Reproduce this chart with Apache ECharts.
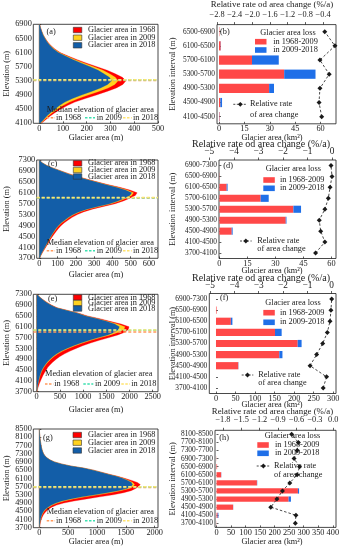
<!DOCTYPE html>
<html>
<head>
<meta charset="utf-8">
<script src="https://cdn.jsdelivr.net/npm/echarts@6.0.0/dist/echarts.min.js"></script>
<style>
html,body{margin:0;padding:0;background:#ffffff;}
#chart{width:346px;height:550px;}
</style>
</head>
<body>
<div id="chart"></div>
<script>
// ================= DATA =================
// Panel (a): hypsometry, elevation (m) vs glacier area
const elevA = [4100,4200,4300,4400,4500,4600,4700,4800,4900,5000,5100,5200,5300,5400,5500,5600,5700,5800,5900,6000,6100,6200,6300,6400,6500,6600,6700,6800,6900];
const areaA1968 = [9,27,45,66,90,118,150,194,241,285,325,352,365,350,320,286,243,200,160,122,88,66,49,36,26,17,11,6,2];
const areaA2009 = [6,22,37,55,77,100,128,164,206,250,290,318,332,320,296,268,230,190,152,116,84,63,47,34,25,17,10,5,2];
const areaA2018 = [4,18,31,47,66,85,108,140,178,220,258,288,305,295,272,248,214,178,143,110,80,60,45,33,24,16,10,5,2];
const medA = [5310,5330,5335];

// Panel (c)
const elevC = [3700,3800,3900,4000,4100,4200,4300,4400,4500,4600,4700,4800,4900,5000,5100,5200,5300,5400,5500,5600,5700,5800,5900,6000,6100,6200,6300,6400,6500,6600,6700,6800,6900,7000,7100,7200,7300];
const areaC1968 = [3,9,17,26,35,44,53,62,72,83,94,106,120,137,158,180,208,242,290,352,415,460,495,525,535,495,440,374,316,260,208,162,120,78,42,16,0];
const areaC2009 = [2,8,15,23,31,40,48,56,65,74,85,95,108,124,145,165,191,222,268,330,394,440,475,505,515,480,428,365,309,253,203,157,117,76,41,15,0];
const areaC2018 = [2,7,14,22,30,38,46,54,63,72,82,92,105,120,140,160,185,215,260,320,385,430,465,495,505,470,420,360,305,250,200,155,115,75,40,15,0];
const medC = [5905,5920,5925];

// Panel (e)
const elevE = [3700,3800,3900,4000,4100,4200,4300,4400,4500,4600,4700,4800,4900,5000,5100,5200,5300,5400,5500,5600,5700,5800,5900,6000,6100,6200,6300,6400,6500,6600,6700,6800,6900,7000,7100,7200,7300];
const areaE1968 = [8,20,38,58,82,108,135,168,205,240,290,350,420,500,600,720,850,990,1160,1350,1560,1750,1900,1975,1990,1820,1580,1360,1095,915,680,445,320,225,140,65,5];
const areaE2009 = [6,12,21,32,45,58,75,96,122,157,196,245,305,373,456,560,682,828,992,1175,1380,1590,1760,1880,1900,1740,1520,1310,1060,890,660,425,305,213,132,61,5];
const areaE2018 = [5,10,18,28,40,52,68,88,112,145,182,228,285,350,430,530,648,790,950,1130,1330,1530,1680,1760,1780,1680,1500,1300,1050,880,650,420,300,210,130,60,5];
const medE = [5910,5975,5980];

// Panel (g)
const elevG = [3700,3800,3900,4000,4100,4200,4300,4400,4500,4600,4700,4800,4900,5000,5100,5200,5300,5400,5500,5600,5700,5800,5900,6000,6100,6200,6300,6400,6500,6600,6700,6800,6900,7000,7100,7200,7300,7400,7500,7600,7700,7800,7900,8000,8100,8200,8300,8400,8500];
const areaG1968 = [5,10,16,24,34,48,66,90,120,160,215,300,425,600,820,1050,1280,1460,1590,1665,1720,1750,1700,1600,1480,1360,1215,1080,945,772,550,388,266,185,134,98,75,59,48,39,32,26,21,16,11,8,5,3,1];
const areaG2009 = [3,7,11,16,23,32,45,62,84,117,165,230,315,430,590,800,1020,1230,1410,1550,1625,1650,1620,1550,1455,1340,1198,1066,935,764,543,382,262,181,131,96,73,58,47,38,31,25,20,15,11,8,5,3,1];
const areaG2018 = [3,6,10,14,20,28,40,55,75,105,150,210,285,390,540,740,960,1170,1360,1510,1590,1615,1595,1530,1440,1330,1190,1060,930,760,540,380,260,180,130,95,72,57,46,38,31,25,20,15,11,8,5,3,1];
const medG = [5660,5690,5695];

// Tick labels of the hypsometry panels
const yTicksA = [4100,4500,4900,5300,5700,6100,6500,6900];
const yTicksCE = [3700,4100,4500,4900,5300,5700,6100,6500,6900,7300];
const yTicksG = [3700,4100,4500,4900,5300,5700,6100,6500,6900,7300,7700,8100,8500];
const xTicksA = [0,100,200,300,400,500];
const xTicksC = [0,100,200,300,400,500,600];
const xTicksE = [0,500,1000,1500,2000,2500];
const xTicksG = [0,500,1000,1500,2000];

// Panel (b): area loss per elevation interval (km2) and relative rate (%/a)
const binsB = ['4100-4500','4500-4900','4900-5300','5300-5700','5700-6100','6100-6500','6500-6900'];
const lossB6809 = [0.3,0.8,29.6,38.5,19.5,1.0,0.2];
const lossB0918 = [0.1,1.0,2.9,18.5,15.8,0.1,0];
const rateB = [-0.43,-0.49,-0.47,-0.26,-0.47,-0.13,-0.36];

// Panel (d)
const binsD = ['3700-4100','4100-4500','4500-4900','4900-5300','5300-5700','5700-6100','6100-6500','6500-6900','6900-7300'];
const lossD6809 = [0,0,6.6,35.5,39.6,22.1,3.9,0.1,0];
const lossD0918 = [0,0,0.5,0.4,4.1,4.3,0.5,0,0];
const rateD = [-0.67,-0.29,-0.46,-0.52,-0.29,-0.15,-0.08,0.0,-0.04];

// Panel (f)
const binsF = ['3700-4100','4100-4500','4500-4900','4900-5300','5300-5700','5700-6100','6100-6500','6500-6900','6900-7300'];
const lossF6809 = [0,0,57,162,209,151,38,1.5,0];
const lossF0918 = [0,0,0.5,8,10,17,4,0,0];
const rateF = [-0.35,-0.21,-0.89,-0.62,-0.37,-0.18,-0.07,-0.03,0.0];

// Panel (h)
const binsH = ['3700-4100','4100-4500','4500-4900','4900-5300','5300-5700','5700-6100','6100-6500','6500-6900','6900-7300','7300-7700','7700-8100','8100-8500'];
const lossH6809 = [0.5,4,57,248,280,139,16,2,0.5,0,0,0];
const lossH0918 = [0,2.5,0.5,8,4,1,0.5,0,0,0,0,0];
const rateH = [-0.62,-0.61,-1.02,-0.92,-0.83,-0.71,-0.59,-0.55,-0.64,-0.59,-0.57,-0.68];

const xTicksB = [0,15,30,45,60];
const xTicksD = [0,15,30,45,60];
const xTicksF = [0,50,100,150,200,250,300];
const xTicksH = [0,50,100,150,200,250,300,350,400];
const rateTicksB = [-2.8,-2.4,-2.0,-1.6,-1.2,-0.8,-0.4];
const rateTicksD = [-5,-4,-3,-2,-1,0];
const rateTicksF = [-5,-4,-3,-2,-1,0];
const rateTicksH = [-1.8,-1.5,-1.2,-0.9,-0.6,-0.3,0];

// ================= STYLE =================
const FONT = '"Liberation Serif","DejaVu Serif",serif';
const INK = '#1a1a1a';
const C68 = '#ff0000', C09 = '#ffd21f', C18 = '#135ea8';
const MEDC = ['#ff9a5c', '#3ee0b0', '#ffe36e'];
const BAR_RED = '#ff4848', BAR_BLUE = '#1f6fe8';
const FS = 8.3;

const grids = [], xAxes = [], yAxes = [], series = [], graphics = [];

function txt(x, y, s, o) {
  o = o || {};
  graphics.push({
    type: 'text', x: x, y: y, rotation: o.rot || 0, z: 100, silent: true,
    style: {
      text: s, fill: o.color || INK,
      font: (o.fs || FS) + 'px ' + FONT,
      align: o.align || 'left', verticalAlign: o.va || 'middle',
      textAlign: o.align || 'left', textVerticalAlign: o.va || 'middle'
    }
  });
}
function rect(x, y, w, h, fill, stroke) {
  graphics.push({type: 'rect', z: 100, silent: true, shape: {x: x, y: y, width: w, height: h},
    style: {fill: fill, stroke: stroke || null, lineWidth: stroke ? 0.6 : 0}});
}
function dash(x1, y1, x2, y2, color, d, w) {
  graphics.push({type: 'line', z: 100, silent: true, shape: {x1: x1, y1: y1, x2: x2, y2: y2},
    style: {stroke: color, lineWidth: w || 1.4, lineDash: d || [2.5, 1.5]}});
}
function diamond(x, y, r) {
  graphics.push({type: 'polygon', z: 101, silent: true,
    shape: {points: [[x, y - r], [x + r, y], [x, y + r], [x - r, y]]}, style: {fill: INK}});
}

function profile(gi, elev, vals, color) {
  const pts = elev.map(function (e, i) { return [vals[i], e]; });
  return {
    type: 'custom', xAxisIndex: gi, yAxisIndex: gi, silent: true, clip: true,
    data: pts, encode: {x: 0, y: 1},
    renderItem: function (params, api) {
      if (params.dataIndex !== 0) return null;
      const poly = [api.coord([0, elev[0]])];
      pts.forEach(function (p) { poly.push(api.coord(p)); });
      poly.push(api.coord([0, elev[elev.length - 1]]));
      return {type: 'polygon', shape: {points: poly}, style: {fill: color, stroke: color, lineWidth: 0.3}};
    }
  };
}

function axisFmt(v) { return String(v); }

function addLeft(c) {
  const gi = grids.length;
  const b = c.box;
  grids.push({left: b[0], top: b[1], width: b[2], height: b[3], show: true,
    borderColor: INK, borderWidth: 0.8, backgroundColor: 'rgba(0,0,0,0)'});
  xAxes.push({gridIndex: gi, type: 'value', min: c.xr[0], max: c.xr[1],
    axisLine: {show: false}, splitLine: {show: false},
    axisTick: {show: true, inside: true, length: 2, customValues: c.xt, lineStyle: {color: INK, width: 0.7}},
    axisLabel: {customValues: c.xt, formatter: axisFmt, fontFamily: FONT, fontSize: FS, color: INK, margin: 1.5}});
  yAxes.push({gridIndex: gi, type: 'value', min: c.elev[0], max: c.elev[c.elev.length - 1],
    axisLine: {show: false}, splitLine: {show: false},
    axisTick: {show: true, inside: true, length: 2, customValues: c.yt, lineStyle: {color: INK, width: 0.7}},
    axisLabel: {customValues: c.yt, formatter: axisFmt, fontFamily: FONT, fontSize: FS, color: INK, margin: 1.5}});
  series.push(profile(gi, c.elev, c.s68, C68));
  series.push(profile(gi, c.elev, c.s09, C09));
  series.push(profile(gi, c.elev, c.s18, C18));
  c.med.forEach(function (m, i) {
    series.push({type: 'line', xAxisIndex: gi, yAxisIndex: gi, silent: true, symbol: 'none', z: 5,
      data: [[c.xr[0], m], [c.xr[1], m]],
      lineStyle: {color: MEDC[i], width: 1.5, type: [3, 2]}});
  });
  txt(c.tag[0], c.tag[1], '(' + c.id + ')');
  const L = c.leg;
  [[C68, 'Glacier area in 1968'], [C09, 'Glacier area in 2009'], [C18, 'Glacier area in 2018']].forEach(function (it, i) {
    rect(L.ix, L.ys[i] - 2.7, 8.5, 5.4, it[0], '#333');
    txt(L.tx, L.ys[i], it[1]);
  });
  const M = c.medTxt;
  txt(M.x, M.y1, 'Median elevation of glacier area');
  dash(M.x, M.y2, M.x + 8.3, M.y2, MEDC[0]);
  txt(M.x + 9.3, M.y2, 'in 1968');
  dash(M.x + 38.3, M.y2, M.x + 48.3, M.y2, MEDC[1]);
  txt(M.x + 50, M.y2, 'in 2009');
  dash(M.x + 76.3, M.y2, M.x + 85, M.y2, MEDC[2]);
  txt(M.x + 86.3, M.y2, 'in 2018');
  txt(96, c.xTitleY, 'Glacier area (m)', {align: 'center'});
  txt(7, b[1] + b[3] / 2, 'Elevation (m)', {align: 'center', rot: Math.PI / 2});
}

function rateFmt(dec) {
  return function (v) {
    const a = Math.abs(v).toFixed(dec);
    return (v < -1e-9 ? '\u2212' : '') + a;
  };
}

function addRight(c) {
  const gi = grids.length;
  const b = c.box;
  grids.push({left: b[0], top: b[1], width: b[2], height: b[3], show: true,
    borderColor: INK, borderWidth: 0.8, backgroundColor: 'rgba(0,0,0,0)'});
  xAxes.push({gridIndex: gi, type: 'value', position: 'bottom', min: c.xr[0], max: c.xr[1],
    axisLine: {show: false}, splitLine: {show: false},
    axisTick: {show: true, inside: true, length: 2, customValues: c.xt, lineStyle: {color: INK, width: 0.7}},
    axisLabel: {customValues: c.xt, formatter: axisFmt, fontFamily: FONT, fontSize: FS, color: INK, margin: 1.5}});
  yAxes.push({gridIndex: gi, type: 'category', data: c.bins,
    axisLine: {show: false}, splitLine: {show: false},
    axisTick: {show: true, inside: true, length: 2, alignWithLabel: true, lineStyle: {color: INK, width: 0.7}},
    axisLabel: {interval: 0, fontFamily: FONT, fontSize: c.yfs, color: INK, margin: 2}});
  series.push({type: 'bar', xAxisIndex: gi, yAxisIndex: gi, stack: 'loss' + c.id, silent: true,
    barCategoryGap: '35%', data: c.l1, itemStyle: {color: BAR_RED}});
  series.push({type: 'bar', xAxisIndex: gi, yAxisIndex: gi, stack: 'loss' + c.id, silent: true,
    data: c.l2, itemStyle: {color: BAR_BLUE}});
  const ri = grids.length;
  grids.push({left: c.rbox[0], top: b[1], width: c.rbox[1], height: b[3], show: false});
  xAxes.push({gridIndex: ri, type: 'value', position: 'top', min: c.rr[0], max: c.rr[1],
    axisLine: {show: false}, splitLine: {show: false},
    axisTick: {show: true, inside: false, length: 2.5, customValues: c.rt, lineStyle: {color: INK, width: 0.7}},
    axisLabel: {customValues: c.rt, formatter: rateFmt(c.dec), fontFamily: FONT, fontSize: c.tfs, color: INK, margin: c.tm}});
  yAxes.push({gridIndex: ri, type: 'category', data: c.bins, show: false});
  series.push({type: 'line', xAxisIndex: ri, yAxisIndex: ri, silent: true, z: 6,
    data: c.rate, symbol: 'diamond', symbolSize: 5,
    itemStyle: {color: INK}, lineStyle: {color: INK, width: 0.8, type: [2.5, 2]}});
  txt(c.tag[0], c.tag[1], '(' + c.id + ')');
  const L = c.leg;
  txt(L.cx, L.ty, 'Glacier area loss', {align: 'center'});
  rect(L.ix, L.y1 - 2.8, 11.5, 5.6, BAR_RED);
  txt(L.tx, L.y1, 'in 1968-2009');
  rect(L.ix, L.y2 - 2.8, 11.5, 5.6, BAR_BLUE);
  txt(L.tx, L.y2, 'in 2009-2018');
  const R = c.rleg;
  dash(R.x1, R.y, R.x2, R.y, INK, [2, 1.5], 0.8);
  diamond((R.x1 + R.x2) / 2, R.y, 2.4);
  txt(R.tx, R.y, 'Relative rate');
  txt(R.tx, R.y2, 'of area change');
  txt(c.topTitle[0], c.topTitle[1], 'Relative rate od area change (%/a)', {align: 'center', fs: c.ttfs});
  txt(272, c.botTitleY, 'Glacier area (km\u00b2)', {align: 'center'});
  txt(173, b[1] + b[3] / 2, 'Elevation interval (m)', {align: 'center', rot: Math.PI / 2});
}

// ================= PANELS =================
addLeft({id: 'a', elev: elevA, s68: areaA1968, s09: areaA2009, s18: areaA2018, med: medA,
  box: [33.3, 24.3, 124.7, 99], xr: [-25, 500], xt: xTicksA, yt: yTicksA,
  tag: [46.5, 31.7], leg: {ix: 73.3, tx: 88, ys: [30, 37.7, 45.3]},
  medTxt: {x: 46.7, y1: 110, y2: 117.7}, xTitleY: 137.5});
addLeft({id: 'c', elev: elevC, s68: areaC1968, s09: areaC2009, s18: areaC2018, med: medC,
  box: [36.7, 160, 121.3, 98.3], xr: [-14, 649], xt: xTicksC, yt: yTicksCE,
  tag: [48, 163.5], leg: {ix: 73.3, tx: 88, ys: [163.3, 170, 176.5]},
  medTxt: {x: 46.7, y1: 242.7, y2: 250.7}, xTitleY: 275});
addLeft({id: 'e', elev: elevE, s68: areaE1968, s09: areaE2009, s18: areaE2018, med: medE,
  box: [33.3, 294.3, 124.7, 97.4], xr: [-73, 2614], xt: xTicksE, yt: yTicksCE,
  tag: [48, 298.5], leg: {ix: 73.3, tx: 88, ys: [297.5, 303, 308.5]},
  medTxt: {x: 45, y1: 374.3, y2: 384}, xTitleY: 410});
addLeft({id: 'g', elev: elevG, s68: areaG1968, s09: areaG2009, s18: areaG2018, med: medG,
  box: [33.3, 429, 124.7, 98.7], xr: [-104, 2057], xt: xTicksG, yt: yTicksG,
  tag: [43, 437.7], leg: {ix: 73, tx: 88, ys: [435, 442.7, 450.5]},
  medTxt: {x: 46.7, y1: 511.7, y2: 520.7}, xTitleY: 541.7});

addRight({id: 'b', bins: binsB, l1: lossB6809, l2: lossB0918, rate: rateB,
  box: [217, 24.6, 119, 99.2], xr: [-1.18, 69.1], xt: xTicksB,
  rbox: [217, 119], rr: [-2.8, -0.106], rt: rateTicksB, dec: 1, tfs: FS, tm: 6, yfs: 7.4,
  tag: [220, 32.3],
  leg: {cx: 288, ty: 33.3, ix: 255, tx: 273.3, y1: 41.7, y2: 50},
  rleg: {x1: 233.3, x2: 247.3, y: 104.3, tx: 250, y2: 115},
  topTitle: [272, 5], ttfs: 8.9, botTitleY: 137.5});
addRight({id: 'd', bins: binsD, l1: lossD6809, l2: lossD0918, rate: rateD,
  box: [219, 160, 117, 98.5], xr: [-0.2, 62.4], xt: xTicksD,
  rbox: [209.3, 126.7], rr: [-5, 0.163], rt: rateTicksD, dec: 0, tfs: 9.3, tm: 3.5, yfs: 7.4,
  tag: [223.3, 166],
  leg: {cx: 293.3, ty: 169.3, ix: 263.3, tx: 280, y1: 180, y2: 188.3},
  rleg: {x1: 240, x2: 251.7, y: 241, tx: 257.3, y2: 249},
  topTitle: [261, 144], ttfs: 10, botTitleY: 270.5});
addRight({id: 'f', bins: binsF, l1: lossF6809, l2: lossF0918, rate: rateF,
  box: [209.3, 293.5, 126.7, 100], xr: [-17.1, 307], xt: xTicksF,
  rbox: [209.3, 126.7], rr: [-5.03, 0.177], rt: rateTicksF, dec: 0, tfs: 9.3, tm: 3, yfs: 7.4,
  tag: [220, 298.3],
  leg: {cx: 293, ty: 303.3, ix: 263.3, tx: 280, y1: 312.7, y2: 322.3},
  rleg: {x1: 241.7, x2: 253.3, y: 375, tx: 258.3, y2: 383.3},
  topTitle: [261, 278], ttfs: 10, botTitleY: 404.5});
addRight({id: 'h', bins: binsH, l1: lossH6809, l2: lossH0918, rate: rateH,
  box: [215, 430.3, 121, 97.1], xr: [-5.2, 411], xt: xTicksH,
  rbox: [215, 121], rr: [-1.93, 0.044], rt: rateTicksH, dec: 1, tfs: FS, tm: 6, yfs: 7.4,
  tag: [219.3, 438.3],
  leg: {cx: 292.5, ty: 436, ix: 257.3, tx: 275, y1: 445, y2: 453.3},
  rleg: {x1: 256.7, x2: 270, y: 466, tx: 274, y2: 475},
  topTitle: [272.5, 412], ttfs: 8.8, botTitleY: 541.7});

const chart = echarts.init(document.getElementById('chart'), null, {renderer: 'canvas', width: 346, height: 550});
chart.setOption({
  animation: false,
  backgroundColor: '#ffffff',
  textStyle: {fontFamily: FONT},
  grid: grids, xAxis: xAxes, yAxis: yAxes, series: series,
  graphic: {elements: graphics}
});
</script>
</body>
</html>
